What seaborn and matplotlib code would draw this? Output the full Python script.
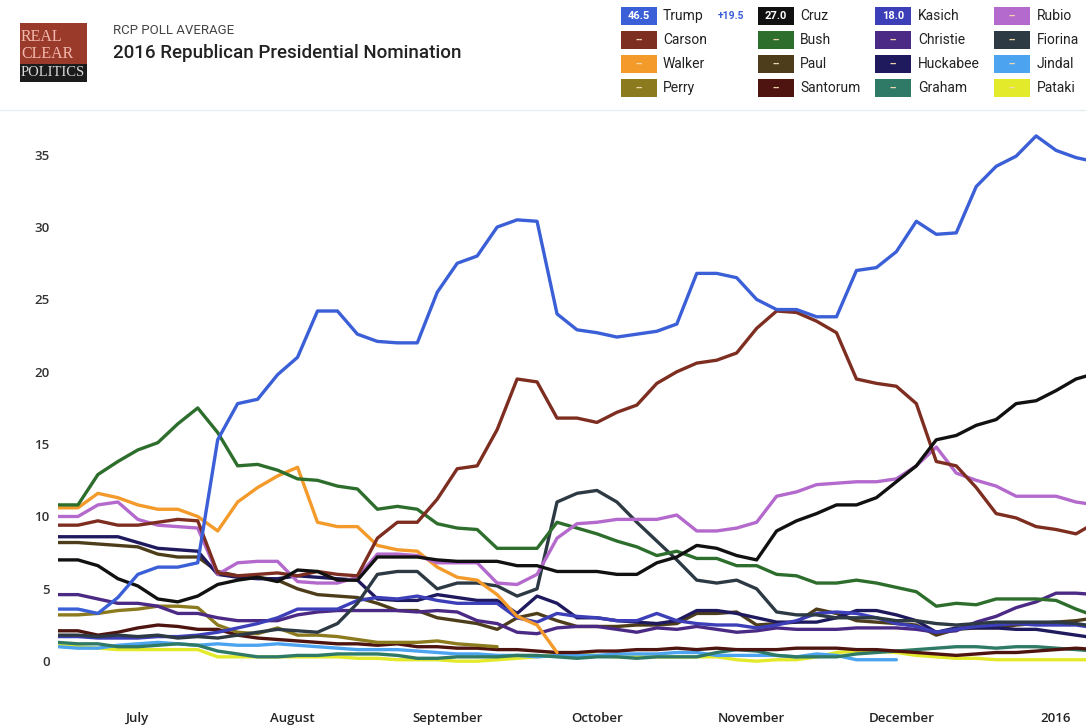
import numpy as np
import pandas as pd
import matplotlib
matplotlib.use("Agg")
import matplotlib.pyplot as plt
import seaborn as sns
from matplotlib.patches import Rectangle

# ---------------- data (RCP poll average) ----------------
start_date = "2015-06-15"
n_points = 53
step_days = 4
NA = np.nan

trump = [3.6, 3.6, 3.3, 4.4, 6.0, 6.5, 6.5, 6.8, 15.3, 17.8,
         18.1, 19.8, 21.0, 24.2, 24.2, 22.6, 22.1, 22.0, 22.0, 25.5,
         27.5, 28.0, 30.0, 30.5, 30.4, 24.0, 22.9, 22.7, 22.4, 22.6,
         22.8, 23.3, 26.8, 26.8, 26.5, 25.0, 24.3, 24.3, 23.8, 23.8,
         27.0, 27.2, 28.3, 30.4, 29.5, 29.6, 32.8, 34.2, 34.9, 36.3,
         35.3, 34.8, 34.5]
carson = [9.4, 9.4, 9.7, 9.4, 9.4, 9.6, 9.8, 9.7, 6.1, 5.9,
          6.0, 6.1, 5.9, 6.2, 6.0, 5.9, 8.5, 9.6, 9.6, 11.2,
          13.3, 13.5, 16.0, 19.5, 19.3, 16.8, 16.8, 16.5, 17.2, 17.7,
          19.2, 20.0, 20.6, 20.8, 21.3, 23.0, 24.2, 24.1, 23.5, 22.7,
          19.5, 19.2, 19.0, 17.8, 13.8, 13.5, 12.0, 10.2, 9.9, 9.3,
          9.1, 8.8, 9.6]
cruz = [7.0, 7.0, 6.6, 5.7, 5.2, 4.3, 4.1, 4.5, 5.3, 5.6,
        5.8, 5.5, 6.3, 6.2, 5.6, 5.6, 7.2, 7.2, 7.2, 7.0,
        6.9, 6.9, 6.9, 6.6, 6.6, 6.2, 6.2, 6.2, 6.0, 6.0,
        6.8, 7.2, 8.0, 7.8, 7.3, 7.0, 9.0, 9.7, 10.2, 10.8,
        10.8, 11.3, 12.4, 13.5, 15.3, 15.6, 16.3, 16.7, 17.8, 18.0,
        18.7, 19.5, 19.9]
rubio = [10.0, 10.0, 10.8, 11.0, 9.8, 9.4, 9.3, 9.2, 6.0, 6.8,
         6.9, 6.9, 5.5, 5.4, 5.4, 5.8, 7.4, 7.4, 7.3, 6.8,
         6.8, 6.8, 5.4, 5.3, 6.0, 8.5, 9.5, 9.6, 9.8, 9.8,
         9.8, 10.1, 9.0, 9.0, 9.2, 9.6, 11.4, 11.7, 12.2, 12.3,
         12.4, 12.4, 12.6, 13.5, 14.8, 13.0, 12.5, 12.1, 11.4, 11.4,
         11.4, 11.0, 10.8]
bush = [10.8, 10.8, 12.9, 13.8, 14.6, 15.1, 16.4, 17.5, 15.8, 13.5,
        13.6, 13.2, 12.6, 12.5, 12.1, 11.9, 10.5, 10.7, 10.5, 9.5,
        9.2, 9.1, 7.8, 7.8, 7.8, 9.6, 9.2, 8.8, 8.3, 7.9,
        7.3, 7.6, 7.1, 7.1, 6.6, 6.6, 6.0, 5.9, 5.4, 5.4,
        5.6, 5.4, 5.1, 4.8, 3.8, 4.0, 3.9, 4.3, 4.3, 4.3,
        4.2, 3.6, 3.1]
walker = [10.6, 10.6, 11.6, 11.3, 10.8, 10.5, 10.5, 10.0, 9.0, 11.0,
          12.0, 12.8, 13.4, 9.6, 9.3, 9.3, 8.0, 7.7, 7.6, 6.5,
          5.8, 5.6, 4.6, 3.1, 2.5, 0.6] + [NA] * 27
fiorina = [1.8, 1.8, 1.7, 1.8, 1.7, 1.8, 1.6, 1.7, 1.6, 1.8,
           2.0, 2.2, 2.1, 2.0, 2.6, 4.0, 6.0, 6.2, 6.2, 5.0,
           5.4, 5.4, 5.2, 4.5, 5.0, 11.0, 11.6, 11.8, 11.0, 9.6,
           8.3, 7.0, 5.6, 5.4, 5.6, 5.0, 3.4, 3.2, 3.2, 3.0,
           3.0, 3.0, 2.8, 2.8, 2.6, 2.5, 2.6, 2.7, 2.7, 2.7,
           2.7, 2.6, 2.4]
paul = [8.2, 8.2, 8.1, 8.0, 7.9, 7.4, 7.2, 7.2, 6.2, 5.9,
        5.8, 5.6, 5.0, 4.6, 4.5, 4.4, 4.0, 3.5, 3.5, 3.0,
        2.8, 2.6, 2.2, 3.0, 3.3, 2.8, 2.4, 2.4, 2.4, 2.5,
        2.5, 2.6, 3.3, 3.3, 3.4, 2.5, 2.6, 2.7, 3.6, 3.3,
        2.8, 2.7, 2.6, 2.5, 1.8, 2.2, 2.3, 2.3, 2.5, 2.6,
        2.7, 2.8, 3.0]
huckabee = [8.6, 8.6, 8.6, 8.6, 8.2, 7.8, 7.7, 7.6, 6.0, 5.8,
            5.7, 5.7, 5.9, 5.8, 5.7, 5.6, 4.3, 4.2, 4.2, 4.6,
            4.4, 4.2, 4.2, 3.3, 4.5, 4.0, 3.0, 3.0, 2.8, 2.7,
            2.6, 2.8, 3.5, 3.5, 3.3, 3.0, 2.7, 2.7, 2.7, 3.0,
            3.5, 3.5, 3.2, 2.8, 2.0, 2.3, 2.3, 2.3, 2.2, 2.2,
            2.0, 1.8, 1.6]
christie = [4.6, 4.6, 4.3, 4.0, 4.0, 3.8, 3.3, 3.3, 3.0, 2.8,
            2.8, 2.8, 3.2, 3.4, 3.5, 3.5, 3.5, 3.5, 3.4, 3.5,
            3.4, 2.8, 2.6, 2.0, 1.9, 2.3, 2.4, 2.4, 2.2, 2.0,
            2.3, 2.2, 2.4, 2.2, 2.0, 2.1, 2.3, 2.2, 2.2, 2.2,
            2.3, 2.3, 2.3, 2.2, 2.0, 2.1, 2.7, 3.1, 3.7, 4.1,
            4.7, 4.7, 4.6]
kasich = [1.7, 1.7, 1.6, 1.6, 1.6, 1.7, 1.7, 1.8, 2.0, 2.3,
          2.6, 3.0, 3.6, 3.6, 3.6, 4.2, 4.4, 4.3, 4.5, 4.2,
          4.0, 4.0, 4.0, 3.0, 2.7, 3.3, 3.1, 3.0, 2.8, 2.8,
          3.3, 2.8, 2.6, 2.5, 2.5, 2.3, 2.5, 2.8, 3.3, 3.4,
          3.3, 3.0, 2.6, 2.4, 2.0, 2.2, 2.4, 2.5, 2.6, 2.5,
          2.5, 2.5, 2.3]
perry = [3.2, 3.2, 3.3, 3.5, 3.6, 3.8, 3.8, 3.7, 2.5, 2.0,
         1.9, 2.3, 1.8, 1.8, 1.7, 1.5, 1.3, 1.3, 1.3, 1.4,
         1.2, 1.1, 1.0] + [NA] * 30
santorum = [2.1, 2.1, 1.8, 2.0, 2.3, 2.5, 2.4, 2.2, 2.2, 1.8,
            1.6, 1.5, 1.4, 1.3, 1.2, 1.2, 1.1, 1.2, 1.0, 1.0,
            0.9, 0.9, 0.8, 0.8, 0.7, 0.6, 0.6, 0.7, 0.7, 0.8,
            0.8, 0.9, 0.8, 0.9, 0.8, 0.8, 0.8, 0.9, 0.9, 0.9,
            0.8, 0.8, 0.7, 0.6, 0.5, 0.4, 0.5, 0.6, 0.6, 0.7,
            0.8, 0.9, 0.8]
graham = [1.3, 1.2, 1.2, 1.0, 1.0, 1.1, 1.2, 1.1, 0.7, 0.5,
          0.3, 0.3, 0.4, 0.4, 0.5, 0.5, 0.5, 0.4, 0.2, 0.2,
          0.3, 0.3, 0.3, 0.4, 0.4, 0.3, 0.2, 0.3, 0.3, 0.2,
          0.3, 0.3, 0.3, 0.6, 0.8, 0.7, 0.4, 0.3, 0.3, 0.3,
          0.5, 0.6, 0.7, 0.8, 0.9, 1.0, 1.0, 0.9, 1.0, 1.0,
          0.9, 0.8, 0.7]
jindal = [1.0, 0.9, 0.9, 1.1, 1.2, 1.3, 1.2, 1.1, 1.2, 1.1,
          1.1, 1.2, 1.1, 1.0, 0.9, 0.8, 0.8, 0.8, 0.7, 0.6,
          0.5, 0.5, 0.4, 0.4, 0.3, 0.4, 0.4, 0.4, 0.5, 0.5,
          0.5, 0.6, 0.6, 0.4, 0.4, 0.4, 0.4, 0.3, 0.5, 0.4,
          0.1, 0.1, 0.1] + [NA] * 10
pataki = [1.1, 1.0, 0.9, 0.8, 0.8, 0.8, 0.8, 0.8, 0.3, 0.3,
          0.3, 0.3, 0.3, 0.3, 0.3, 0.2, 0.2, 0.1, 0.1, 0.1,
          0.0, 0.0, 0.1, 0.2, 0.3, 0.5, 0.5, 0.4, 0.3, 0.3,
          0.3, 0.3, 0.3, 0.3, 0.1, 0.0, 0.1, 0.1, 0.3, 0.6,
          0.7, 0.7, 0.6, 0.4, 0.3, 0.2, 0.2, 0.1, 0.1, 0.1,
          0.1, 0.1, 0.1]

series = {
    "Trump": trump, "Carson": carson, "Cruz": cruz, "Rubio": rubio,
    "Bush": bush, "Walker": walker, "Fiorina": fiorina, "Paul": paul,
    "Huckabee": huckabee, "Christie": christie, "Kasich": kasich,
    "Perry": perry, "Santorum": santorum, "Graham": graham,
    "Jindal": jindal, "Pataki": pataki,
}

colors = {
    "Trump": "#3a5fd6", "Carson": "#7e2e20", "Walker": "#f39a2a", "Perry": "#8c7a1e",
    "Cruz": "#111111", "Bush": "#2d6e2d", "Paul": "#4e3d1a", "Santorum": "#4e1410",
    "Kasich": "#3d3fb8", "Christie": "#4b2a85", "Huckabee": "#1f1a5e", "Graham": "#2f7a66",
    "Rubio": "#b469cc", "Fiorina": "#2d3a44", "Jindal": "#4ca4f0", "Pataki": "#e2ea2a",
}

# legend table (top-right)
legend_rows = [
    ["Trump", "Cruz", "Kasich", "Rubio"],
    ["Carson", "Bush", "Christie", "Fiorina"],
    ["Walker", "Paul", "Huckabee", "Jindal"],
    ["Perry", "Santorum", "Graham", "Pataki"],
]
badge_values = {"Trump": "46.5", "Cruz": "27.0", "Kasich": "18.0"}
spread_label = "+19.5"

month_ticks = ["2015-07-01", "2015-08-01", "2015-09-01", "2015-10-01",
               "2015-11-01", "2015-12-01", "2016-01-01"]
month_labels = ["July", "August", "September", "October", "November", "December", "2016"]
y_ticks = [0, 5, 10, 15, 20, 25, 30, 35]

# ---------------- build frame ----------------
dates = pd.date_range(start_date, periods=n_points, freq=f"{step_days}D")
frames = []
for name, vals in series.items():
    frames.append(pd.DataFrame({"date": dates, "value": vals, "candidate": name}))
df = pd.concat(frames, ignore_index=True).dropna()

# ---------------- figure ----------------
W, H = 1086, 727
sns.set_theme(style="white")
plt.rcParams["font.family"] = ["Roboto", "DejaVu Sans"]
fig = plt.figure(figsize=(W / 100, H / 100), dpi=100)
fig.patch.set_facecolor("white")

def fx(px):
    return px / W

def fy(py):
    return 1 - py / H

ax = fig.add_axes([fx(58), fy(680), fx(1086) - fx(58), fy(120) - fy(680)])

hue_order = ["Pataki", "Jindal", "Graham", "Santorum", "Perry", "Paul", "Huckabee",
             "Christie", "Kasich", "Fiorina", "Walker", "Bush", "Rubio", "Carson",
             "Cruz", "Trump"]
sns.lineplot(data=df, x="date", y="value", hue="candidate", hue_order=hue_order,
             palette=colors, estimator=None, sort=False, linewidth=2.4,
             legend=False, ax=ax)

ax.set_xlim(pd.Timestamp("2015-06-15"), pd.Timestamp("2016-01-07"))
ax.set_ylim(-1.3, 37.4)
ax.set_xlabel("")
ax.set_ylabel("")
for s in ax.spines.values():
    s.set_visible(False)
ax.grid(False)
ax.set_yticks(y_ticks)
ax.set_yticklabels([str(v) for v in y_ticks], fontsize=9.5, color="#333333",
                   fontweight="semibold", family=["Open Sans", "DejaVu Sans"])
ax.set_xticks([pd.Timestamp(d) for d in month_ticks])
ax.set_xticklabels(month_labels, fontsize=9.5, color="#222222",
                   family=["Open Sans", "DejaVu Sans"], fontweight="semibold")
ax.tick_params(axis="y", length=0, pad=6)
ax.tick_params(axis="x", length=0, pad=23)

# ---------------- header: logo ----------------
fig.add_artist(Rectangle((fx(20), fy(64)), fx(87) - fx(20), fy(23) - fy(64),
                         transform=fig.transFigure, facecolor="#9a3a2b", edgecolor="none"))
fig.add_artist(Rectangle((fx(20), fy(82)), fx(87) - fx(20), fy(64) - fy(82),
                         transform=fig.transFigure, facecolor="#1b1b1b", edgecolor="none"))
serif = ["Liberation Serif", "DejaVu Serif"]
fig.text(fx(21), fy(37), "REAL", fontsize=11.5, color="#f2b9ae", family=serif, va="center")
fig.text(fx(21), fy(54), "CLEAR", fontsize=11.5, color="#f2b9ae", family=serif, va="center")
fig.text(fx(21), fy(73), "POLITICS", fontsize=10.5, color="#d8d8d8", family=serif, va="center")

fig.text(fx(113), fy(30), "RCP POLL AVERAGE", fontsize=9.5, color="#444444", va="center")
fig.text(fx(113), fy(53), "2016 Republican Presidential Nomination", fontsize=13.5,
         color="#222222", va="center", fontweight="medium")

# ---------------- header: legend ----------------
col_badge_x = [621, 758, 875, 994]
col_name_x = [663, 800, 918, 1037]
row_y = [16, 40, 64, 88]
bw, bh = 36, 18
for r, row in enumerate(legend_rows):
    for c, name in enumerate(row):
        x0, yc = col_badge_x[c], row_y[r]
        fig.add_artist(Rectangle((fx(x0), fy(yc + bh / 2)), fx(bw), bh / H,
                                 transform=fig.transFigure, facecolor=colors[name],
                                 edgecolor="none"))
        if name in badge_values:
            fig.text(fx(x0 + bw / 2), fy(yc), badge_values[name], fontsize=8,
                     color="white", ha="center", va="center", fontweight="bold")
        else:
            fig.text(fx(x0 + bw / 2), fy(yc), "--", fontsize=7, color="#f4d8b0",
                     ha="center", va="center", fontweight="bold")
        fig.text(fx(col_name_x[c]), fy(yc), name, fontsize=10, color="#222222",
                 ha="left", va="center")
fig.text(fx(718), fy(16), spread_label, fontsize=7.5, color="#3a5fd6",
         ha="left", va="center", fontweight="bold")

fig.add_artist(plt.Line2D([fx(0), fx(1086)], [fy(110), fy(110)],
                          transform=fig.transFigure, color="#e8eef0", linewidth=1))

fig.savefig("out.png", dpi=100, facecolor="white")
